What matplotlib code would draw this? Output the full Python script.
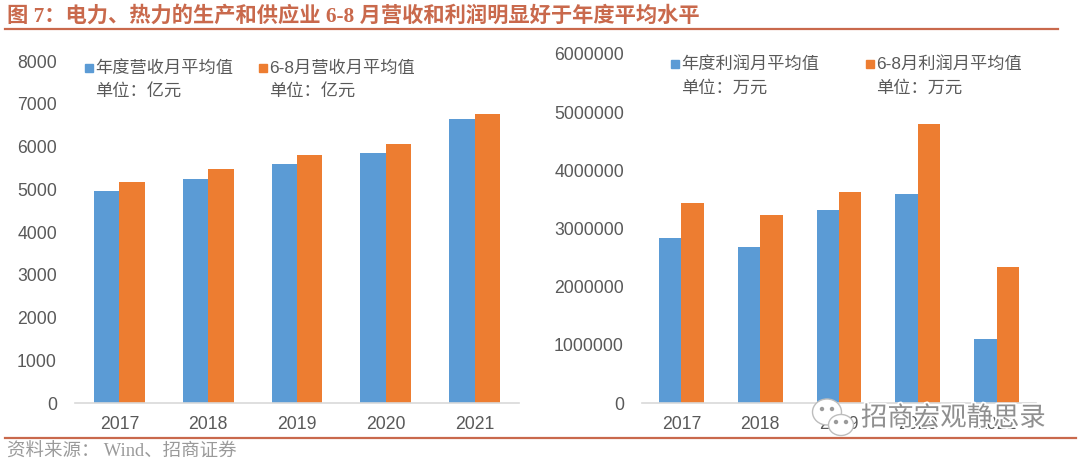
import matplotlib
matplotlib.use("Agg")
import matplotlib.pyplot as plt
import matplotlib.patheffects as pe
from matplotlib.ticker import StrMethodFormatter
from matplotlib.patches import Ellipse
import numpy as np

SANS = ['Liberation Sans', 'Noto Sans CJK SC']
SERIF = ['Liberation Serif', 'Noto Sans CJK SC']
plt.rcParams['font.family'] = SANS

years = ["2017", "2018", "2019", "2020", "2021"]
revenue_year = [4960, 5230, 5590, 5850, 6640]
revenue_summer = [5180, 5480, 5810, 6070, 6760]
profit_year = [2840000, 2680000, 3310000, 3600000, 1100000]
profit_summer = [3440000, 3230000, 3620000, 4790000, 2330000]

BLUE = "#5B9BD5"
ORANGE = "#ED7D31"
RULE = "#C9694C"
GREY = "#595959"
W, H = 1080, 465


def px_axes(left, top, right, bottom):
    return fig.add_axes([left / W, 1 - bottom / H, (right - left) / W, (bottom - top) / H])


def draw_bars(ax, a, b, ymax, step, width):
    x = np.arange(len(years))
    ax.bar(x - width / 2, a, width, color=BLUE)
    ax.bar(x + width / 2, b, width, color=ORANGE)
    ax.set_xlim(-0.5, 4.5)
    ax.set_ylim(0, ymax)
    ax.set_xticks(x, years)
    ax.set_yticks(np.arange(0, ymax + 1, step))
    ax.yaxis.set_major_formatter(StrMethodFormatter("{x:.0f}"))
    ax.tick_params(length=0, labelsize=12.7, labelcolor=GREY)
    ax.tick_params(axis="x", pad=9)
    ax.tick_params(axis="y", pad=13)
    for s in ["top", "left", "right"]:
        ax.spines[s].set_visible(False)
    ax.spines["bottom"].set_color("#D9D9D9")
    ax.spines["bottom"].set_linewidth(1.2)


def legend_item(x, y, color, name, unit):
    fig.patches.append(plt.Rectangle((x / W, 1 - (y + 4) / H), 8 / W, 8 / H,
                                     transform=fig.transFigure, color=color))
    fig.text((x + 10) / W, 1 - y / H, name, fontsize=12.4, color=GREY, va="center")
    fig.text((x + 10) / W, 1 - (y + 24) / H, unit, fontsize=12.4, color=GREY, va="center")


fig = plt.figure(figsize=(W / 100, H / 100), dpi=100)

ax1 = px_axes(75, 61, 519, 403)
draw_bars(ax1, revenue_year, revenue_summer, 8000, 1000, 0.285)
ax2 = px_axes(642, 54, 1036, 403)
draw_bars(ax2, profit_year, profit_summer, 6000000, 1000000, 0.285)

legend_item(85, 68, BLUE, "年度营收月平均值", "单位：亿元")
legend_item(259, 68, ORANGE, "6-8月营收月平均值", "单位：亿元")
legend_item(671, 64, BLUE, "年度利润月平均值", "单位：万元")
legend_item(866, 64, ORANGE, "6-8月利润月平均值", "单位：万元")

# title and source, with the rules around them
fig.text(7 / W, 1 - 16 / H, "图 7：电力、热力的生产和供应业 6-8 月营收和利润明显好于年度平均水平",
         fontsize=15.3, fontweight="bold", color=RULE, va="center", family=SERIF)
fig.add_artist(plt.Line2D([5 / W, 1058 / W], [1 - 29.5 / H] * 2, color=RULE, lw=1.6))
fig.add_artist(plt.Line2D([5 / W, 1076 / W], [1 - 438 / H] * 2, color=RULE, lw=1.6))
fig.text(7 / W, 1 - 452 / H, "资料来源： Wind、招商证券", fontsize=13.3, color="#9A9A9A", va="center",
         family=SERIF)

# watermark over the right chart
outline = [pe.withStroke(linewidth=2.5, foreground="white")]
fig.text(861 / W, 1 - 418 / H, "招商宏观静思录", fontsize=19, color="#8F8F8F", va="center",
         path_effects=outline, zorder=10, family=['Noto Sans CJK SC'], fontweight="light")
for cx, cy, ew, eh in [(827, 412, 29, 26), (841, 425, 25, 21)]:
    fig.add_artist(Ellipse((cx / W, 1 - cy / H), ew / W, eh / H, transform=fig.transFigure,
                           facecolor="white", edgecolor="#BDBDBD", lw=1, zorder=9))
    for dx in (-5, 5):
        fig.add_artist(Ellipse(((cx + dx) / W, 1 - (cy - 3) / H), 3 / W, 3 / H,
                               transform=fig.transFigure, color="#9A9A9A", zorder=9))

fig.savefig("out.png", dpi=100)
